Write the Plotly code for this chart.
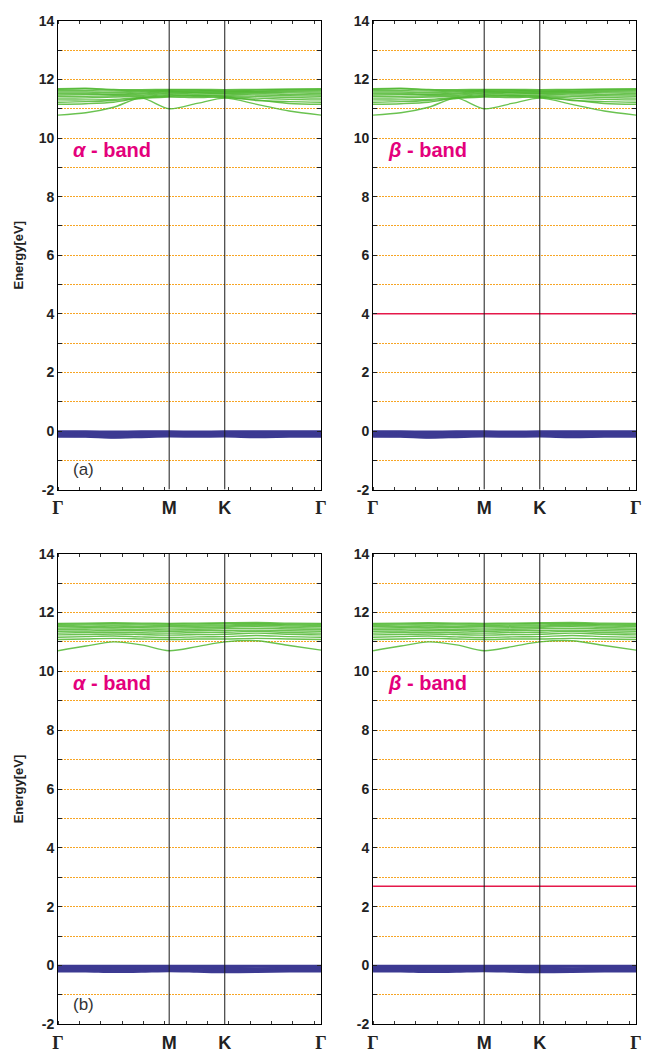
import plotly.graph_objects as go

# ---------------- data ----------------
K_NODES = [0.0, 0.25, 0.5, 0.75, 1.0, 1.25, 1.5, 1.79, 2.08, 2.366]
K_TICKS = [0.0, 1.0, 1.5, 2.366]
K_LABELS = ["Γ", "M", "K", "Γ"]

E_TICKS = [-2, -1, 0, 1, 2, 3, 4, 5, 6, 7, 8, 9, 10, 11, 12, 13, 14]
E_LABELS = ["-2", "", "0", "", "2", "", "4", "", "6", "", "8", "", "10", "", "12", "", "14"]

GREEN_TOP = [
    [10.78, 10.86, 11.05, 11.36, 11.00, 11.18, 11.36, 11.15, 10.92, 10.78],
    [11.15, 11.17, 11.22, 11.38, 11.45, 11.42, 11.38, 11.30, 11.18, 11.15],
    [11.22, 11.24, 11.28, 11.35, 11.40, 11.38, 11.40, 11.28, 11.24, 11.22],
    [11.30, 11.30, 11.32, 11.38, 11.42, 11.45, 11.42, 11.36, 11.32, 11.30],
    [11.36, 11.37, 11.40, 11.42, 11.48, 11.46, 11.45, 11.42, 11.38, 11.36],
    [11.42, 11.42, 11.44, 11.46, 11.52, 11.50, 11.50, 11.47, 11.44, 11.42],
    [11.47, 11.48, 11.48, 11.50, 11.55, 11.54, 11.52, 11.52, 11.49, 11.47],
    [11.52, 11.52, 11.50, 11.53, 11.58, 11.56, 11.55, 11.56, 11.54, 11.52],
    [11.57, 11.57, 11.55, 11.57, 11.60, 11.58, 11.58, 11.58, 11.58, 11.57],
    [11.62, 11.62, 11.60, 11.60, 11.62, 11.62, 11.60, 11.61, 11.62, 11.62],
    [11.66, 11.68, 11.64, 11.62, 11.64, 11.64, 11.62, 11.64, 11.65, 11.66],
    [11.68, 11.70, 11.66, 11.65, 11.66, 11.66, 11.65, 11.66, 11.67, 11.68],
]

GREEN_BOT = [
    [10.70, 10.86, 11.00, 10.90, 10.70, 10.84, 11.00, 11.04, 10.88, 10.72],
    [11.08, 11.10, 11.12, 11.10, 11.08, 11.10, 11.10, 11.12, 11.10, 11.08],
    [11.16, 11.18, 11.20, 11.17, 11.15, 11.17, 11.18, 11.22, 11.18, 11.16],
    [11.24, 11.25, 11.27, 11.25, 11.23, 11.25, 11.26, 11.30, 11.26, 11.24],
    [11.30, 11.32, 11.33, 11.31, 11.30, 11.32, 11.33, 11.36, 11.32, 11.30],
    [11.36, 11.37, 11.39, 11.38, 11.36, 11.38, 11.39, 11.40, 11.38, 11.36],
    [11.42, 11.43, 11.44, 11.42, 11.41, 11.43, 11.45, 11.46, 11.44, 11.42],
    [11.47, 11.48, 11.49, 11.48, 11.47, 11.48, 11.50, 11.52, 11.49, 11.47],
    [11.52, 11.52, 11.54, 11.52, 11.52, 11.53, 11.54, 11.56, 11.54, 11.52],
    [11.56, 11.57, 11.58, 11.57, 11.56, 11.57, 11.58, 11.60, 11.58, 11.56],
    [11.60, 11.61, 11.62, 11.61, 11.60, 11.61, 11.62, 11.63, 11.61, 11.60],
    [11.63, 11.64, 11.65, 11.64, 11.63, 11.64, 11.65, 11.66, 11.64, 11.63],
]

BLUE_TOP = [
    [-0.01, -0.01, -0.02, -0.01, -0.01, -0.02, -0.01, -0.01, -0.01, -0.01],
    [-0.04, -0.05, -0.05, -0.04, -0.04, -0.04, -0.04, -0.05, -0.04, -0.04],
    [-0.08, -0.09, -0.10, -0.08, -0.08, -0.08, -0.08, -0.09, -0.08, -0.08],
    [-0.11, -0.12, -0.13, -0.11, -0.11, -0.11, -0.10, -0.12, -0.11, -0.11],
    [-0.14, -0.15, -0.17, -0.15, -0.14, -0.14, -0.13, -0.15, -0.14, -0.14],
    [-0.17, -0.18, -0.21, -0.18, -0.16, -0.17, -0.16, -0.18, -0.17, -0.17],
    [-0.20, -0.20, -0.23, -0.21, -0.19, -0.20, -0.19, -0.21, -0.20, -0.20],
]

BLUE_BOT = [
    [-0.01, -0.01, -0.01, -0.01, -0.01, -0.01, -0.01, -0.01, -0.01, -0.01],
    [-0.04, -0.04, -0.05, -0.04, -0.04, -0.04, -0.05, -0.04, -0.04, -0.04],
    [-0.08, -0.08, -0.09, -0.08, -0.08, -0.08, -0.09, -0.09, -0.08, -0.08],
    [-0.11, -0.11, -0.13, -0.12, -0.11, -0.11, -0.13, -0.12, -0.11, -0.11],
    [-0.14, -0.14, -0.17, -0.15, -0.14, -0.15, -0.17, -0.16, -0.14, -0.14],
    [-0.17, -0.17, -0.20, -0.18, -0.16, -0.18, -0.21, -0.19, -0.17, -0.17],
    [-0.20, -0.20, -0.22, -0.21, -0.19, -0.21, -0.23, -0.22, -0.20, -0.20],
]

RED_LEVEL_TOP = 4.0
RED_LEVEL_BOT = 2.7

PANEL_TEXT = ["<i>α</i> - band", "<i>β</i> - band", "<i>α</i> - band", "<i>β</i> - band"]
PANEL_TAGS = ["(a)", "(b)"]

# ---------------- style ----------------
W, H = 645, 1060
GREEN = "#50b832"
BLUE = "#3c3a92"
RED = "#e5194a"
MAGENTA = "#e4007c"
ORANGE = "#f7a524"
SANS = "Liberation Sans, Arial, sans-serif"

# panel boxes in pixels: (left, right, top, bottom)
BOXES = [
    (53, 321, 13, 489),
    (374, 642, 13, 489),
    (53, 321, 554, 1032),
    (374, 642, 554, 1032),
]

fig = go.Figure()

panels = [
    (GREEN_TOP, BLUE_TOP, None),
    (GREEN_TOP, BLUE_TOP, RED_LEVEL_TOP),
    (GREEN_BOT, BLUE_BOT, None),
    (GREEN_BOT, BLUE_BOT, RED_LEVEL_BOT),
]

tick_text = ['<span style="font-family:Liberation Serif, Times New Roman, serif">Γ</span>'
             if t == "Γ" else t for t in K_LABELS]

for i, (greens, blues, red) in enumerate(panels):
    n = "" if i == 0 else str(i + 1)
    xa, ya = "x" + n, "y" + n
    for band in greens:
        fig.add_trace(go.Scatter(x=K_NODES, y=band, mode="lines", xaxis=xa, yaxis=ya,
                                 line=dict(color=GREEN, width=1.4, shape="spline", smoothing=0.8),
                                 opacity=0.85, showlegend=False, hoverinfo="skip"))
    for band in blues:
        fig.add_trace(go.Scatter(x=K_NODES, y=band, mode="lines", xaxis=xa, yaxis=ya,
                                 line=dict(color=BLUE, width=2, shape="spline", smoothing=0.8),
                                 showlegend=False, hoverinfo="skip"))
    if red is not None:
        fig.add_trace(go.Scatter(x=[K_NODES[0], K_NODES[-1]], y=[red, red], mode="lines",
                                 xaxis=xa, yaxis=ya, line=dict(color=RED, width=1.5),
                                 showlegend=False, hoverinfo="skip"))
    # vertical symmetry lines at M and K
    for kv in K_TICKS[1:3]:
        fig.add_shape(type="line", xref=xa, yref=ya, x0=kv, x1=kv, y0=E_TICKS[0], y1=E_TICKS[-1],
                      line=dict(color="#1a1a1a", width=1), layer="above")

    l, r, t, b = BOXES[i]
    xkey = "xaxis" + n
    ykey = "yaxis" + n
    fig.layout[xkey] = dict(
        domain=[l / W, r / W], anchor=ya, range=[K_NODES[0], K_NODES[-1]],
        tickmode="array", tickvals=K_TICKS, ticktext=tick_text,
        tickfont=dict(family=SANS, size=18, color="#222", weight="bold"),
        showgrid=False, zeroline=False, showline=True, linecolor="black", linewidth=1,
        mirror="ticks", ticks="", ticklabelstandoff=2,
        minor=dict(tick0=0, dtick=0.192, ticks="inside", ticklen=3, tickcolor="#333", showgrid=False),
        fixedrange=True,
    )
    fig.layout[ykey] = dict(
        domain=[1 - b / H, 1 - t / H], anchor=xa, range=[E_TICKS[0], E_TICKS[-1]],
        tickmode="array", tickvals=E_TICKS, ticktext=E_LABELS,
        tickfont=dict(family=SANS, size=14, color="#222", weight="bold"),
        ticks="inside", ticklen=4, tickcolor="#222",
        showgrid=True, gridcolor=ORANGE, griddash="2px,1px", gridwidth=1.3,
        zeroline=False, showline=True, linecolor="black", linewidth=1, mirror="ticks",
        fixedrange=True,
    )
    if i in (0, 2):
        fig.layout[ykey].title = dict(text="Energy[eV]", standoff=12,
                                      font=dict(family=SANS, size=13, color="#222", weight="bold"))

    # panel label (alpha / beta band)
    fig.add_annotation(xref="paper", yref="paper",
                       x=(l + 13) / W, y=1 - (t + 131) / H,
                       xanchor="left", yanchor="middle", showarrow=False,
                       text=PANEL_TEXT[i],
                       font=dict(family=SANS, size=20, color=MAGENTA, weight="bold"))

for j, tag in enumerate(PANEL_TAGS):
    l, r, t, b = BOXES[2 * j]
    fig.add_annotation(xref="paper", yref="paper",
                       x=(l + 13) / W, y=1 - (b - 20) / H,
                       xanchor="left", yanchor="middle", showarrow=False,
                       text=tag, font=dict(family=SANS, size=17, color="#333"))

fig.update_layout(width=W, height=H, margin=dict(l=0, r=0, t=0, b=0),
                  paper_bgcolor="white", plot_bgcolor="white", showlegend=False)

fig.write_html("out.html")
